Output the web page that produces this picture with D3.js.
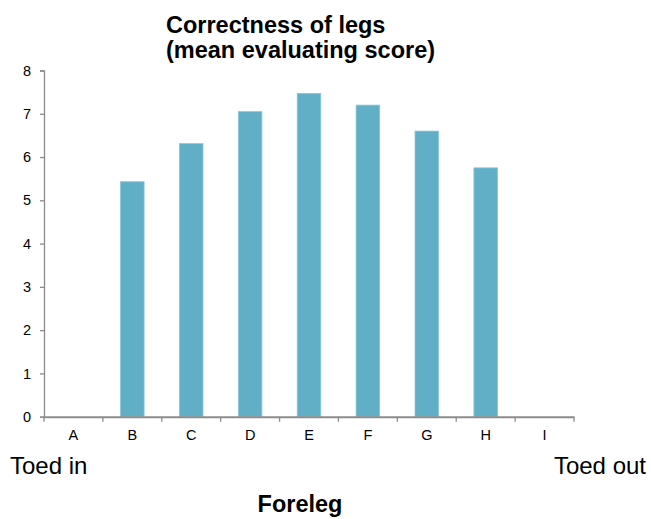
<!DOCTYPE html>
<html>
<head>
<meta charset="utf-8">
<script src="https://cdn.jsdelivr.net/npm/d3@7"></script>
<style>
  body { margin: 0; background: #fff; }
  text { font-family: "Liberation Sans", Arial, sans-serif; }
</style>
</head>
<body>
<svg width="651" height="519"></svg>
<script>
// chart data
var categories = ["A", "B", "C", "D", "E", "F", "G", "H", "I"];
var scores = [null, 5.43, 6.31, 7.05, 7.47, 7.20, 6.60, 5.75, null];
var yTicks = [0, 1, 2, 3, 4, 5, 6, 7, 8];

var svg = d3.select("svg");
var plotLeft = 44, plotRight = 574, plotTop = 70.5, plotBottom = 416.7;

var x = d3.scaleBand()
    .domain(categories)
    .range([plotLeft, plotRight])
    .padding(0);

var y = d3.scaleLinear()
    .domain([0, 8])
    .range([plotBottom, plotTop]);

var axisColor = "#8c8c8c";

// bars
var barW = x.bandwidth() * 0.4;
svg.append("g")
    .selectAll("rect")
    .data(categories.map(function(c, i) { return {cat: c, v: scores[i]}; })
        .filter(function(d) { return d.v != null; }))
    .enter().append("rect")
    .attr("x", function(d) { return x(d.cat) + (x.bandwidth() - barW) / 2; })
    .attr("y", function(d) { return y(d.v); })
    .attr("width", barW)
    .attr("height", function(d) { return y(0) - y(d.v); })
    .attr("fill", "#61afc6")
    .attr("stroke", "#8cc5d6")
    .attr("stroke-width", 0.8);

// y axis
var yAxis = svg.append("g")
    .attr("transform", "translate(" + plotLeft + ",0)")
    .call(d3.axisLeft(y).tickValues(yTicks).tickSize(4).tickPadding(9));
yAxis.select(".domain").attr("stroke", axisColor).attr("stroke-width", 1.3);
yAxis.selectAll(".tick line").attr("stroke", axisColor).attr("stroke-width", 1.3);
yAxis.selectAll("text").attr("fill", "#000").style("font-size", "14.5px");

// x axis
var xAxis = svg.append("g")
    .attr("transform", "translate(0," + plotBottom + ")")
    .call(d3.axisBottom(x).tickSize(0).tickPadding(13));
xAxis.select(".domain").attr("stroke", axisColor).attr("stroke-width", 2);
xAxis.selectAll("text").attr("fill", "#000").style("font-size", "14.5px");

// x tick marks on band boundaries
var bounds = categories.map(function(c) { return x(c); }).concat([plotRight]);
svg.append("g")
    .selectAll("line")
    .data(bounds)
    .enter().append("line")
    .attr("x1", function(d) { return d; })
    .attr("x2", function(d) { return d; })
    .attr("y1", plotBottom)
    .attr("y2", plotBottom + 5)
    .attr("stroke", axisColor)
    .attr("stroke-width", 1.3);

// titles
var title = svg.append("text")
    .attr("x", 166)
    .attr("y", 33)
    .attr("font-size", 23.5)
    .attr("font-weight", "bold");
title.append("tspan").attr("x", 166).text("Correctness of legs");
title.append("tspan").attr("x", 166).attr("dy", 25).text("(mean evaluating score)");

svg.append("text")
    .attr("x", 10)
    .attr("y", 474)
    .attr("font-size", 24)
    .text("Toed in");

svg.append("text")
    .attr("x", 646)
    .attr("y", 474)
    .attr("text-anchor", "end")
    .attr("font-size", 24)
    .text("Toed out");

svg.append("text")
    .attr("x", 300)
    .attr("y", 512)
    .attr("text-anchor", "middle")
    .attr("font-size", 23.5)
    .attr("font-weight", "bold")
    .text("Foreleg");
</script>
</body>
</html>
